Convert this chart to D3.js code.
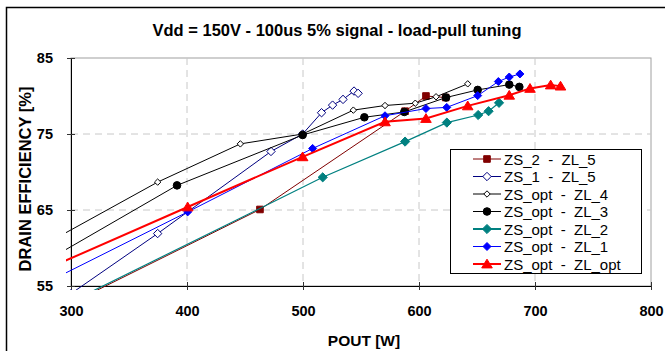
<!DOCTYPE html>
<html>
<head>
<meta charset="utf-8">
<script src="https://cdn.jsdelivr.net/npm/d3@7"></script>
<style>
  body { margin: 0; background: #fff; }
  text { font-family: "Liberation Sans", Arial, sans-serif; }
</style>
</head>
<body>
<svg width="665" height="351"></svg>
<script>
// ---- data (POUT in W, drain efficiency in %) ----
const zs2_zl5_pout = [310, 462.9, 588, 606, 623];
const zs2_zl5_eff  = [53.5, 65.07, 78.0, 80.0, 79.8];

const zs1_zl5_pout = [300, 374.7, 472.4, 499.7, 516, 525.5, 534.5, 544, 547.5];
const zs1_zl5_eff  = [54.0, 61.9, 72.7, 75.0, 77.8, 78.8, 79.55, 80.65, 80.35];

const zsopt_zl4_pout = [280, 374.7, 446, 499.7, 543.4, 570.7, 596.8, 614.7, 642];
const zsopt_zl4_eff  = [60.7, 68.67, 73.7, 75.0, 78.14, 78.75, 79.05, 79.9, 81.6];

const zsopt_zl3_pout = [290, 391.4, 499.7, 552.9, 587.3, 623.3, 650.6, 677.8, 686.5];
const zsopt_zl3_eff  = [59.3, 68.24, 74.87, 77.2, 77.9, 79.8, 80.8, 81.5, 81.2];

const zsopt_zl2_pout = [305, 517, 588, 624, 651, 660, 669];
const zsopt_zl2_eff  = [53.3, 69.3, 74.0, 76.5, 77.5, 78.0, 79.1];

const zsopt_zl1_pout = [290, 400.6, 508.3, 570.7, 606, 623.9, 650.6, 668.4, 677.8, 687];
const zsopt_zl1_eff  = [56.3, 64.75, 73.1, 77.4, 78.35, 78.5, 80.05, 81.9, 82.5, 82.9];

const zsopt_zlopt_pout = [290, 400.6, 499.7, 570.7, 606, 642, 677.8, 695.7, 713.5, 722];
const zsopt_zlopt_eff  = [57.98, 65.4, 72.0, 76.6, 77.04, 78.7, 80.1, 81.0, 81.45, 81.3];

const seriesNames = ['ZS_2  -  ZL_5', 'ZS_1  -  ZL_5', 'ZS_opt  -  ZL_4', 'ZS_opt  -  ZL_3',
                     'ZS_opt  -  ZL_2', 'ZS_opt  -  ZL_1', 'ZS_opt  -  ZL_opt'];
const xTicks = [300, 400, 500, 600, 700, 800];
const yTicks = [55, 65, 75, 85];

// ---- layout ----
const svg = d3.select('svg');
const plot = { l: 71, r: 651, t: 58, b: 286 };

const xScale = d3.scaleLinear().domain([300, 800]).range([plot.l, plot.r]);
const yScale = d3.scaleLinear().domain([55, 85]).range([plot.b, plot.t]);

// marker shapes
const diamond = h => `M0,${-h}L${h},0L0,${h}L${-h},0Z`;
const square = h => `M${-h},${-h}H${h}V${h}H${-h}Z`;
const triangle = h => `M0,${-h * 1.05}L${h * 1.15},${h * 0.85}L${-h * 1.15},${h * 0.85}Z`;
const circle = r => `M${r},0A${r},${r} 0 1,1 ${-r},0A${r},${r} 0 1,1 ${r},0Z`;

const styles = [
  { color: '#800000', width: 1,   shape: square(3.3),   fill: '#800000' },
  { color: '#000080', width: 1,   shape: diamond(4.2),  fill: '#fff' },
  { color: '#000000', width: 1,   shape: diamond(3.2),  fill: '#fff' },
  { color: '#000000', width: 1,   shape: circle(3.8),   fill: '#000' },
  { color: '#008080', width: 1.2, shape: diamond(4.6),  fill: '#008080' },
  { color: '#0000ff', width: 1,   shape: diamond(4),    fill: '#0000ff' },
  { color: '#ff0000', width: 2,   shape: triangle(4.6), fill: '#ff0000' }
];

const pouts = [zs2_zl5_pout, zs1_zl5_pout, zsopt_zl4_pout, zsopt_zl3_pout, zsopt_zl2_pout, zsopt_zl1_pout, zsopt_zlopt_pout];
const effs  = [zs2_zl5_eff, zs1_zl5_eff, zsopt_zl4_eff, zsopt_zl3_eff, zsopt_zl2_eff, zsopt_zl1_eff, zsopt_zlopt_eff];

const series = seriesNames.map((name, i) => ({
  name: name,
  style: styles[i],
  values: pouts[i].map((p, j) => ({ pout: p, eff: effs[i][j] }))
}));

// outer chart frame
svg.append('rect')
  .attr('x', 6.5).attr('y', 7.5)
  .attr('width', 720).attr('height', 400)
  .attr('fill', 'none').attr('stroke', '#000').attr('stroke-width', 1.5);

// title
svg.append('text')
  .attr('x', 337).attr('y', 36)
  .attr('text-anchor', 'middle')
  .attr('font-size', 16.5).attr('font-weight', 'bold')
  .text('Vdd = 150V - 100us 5% signal - load-pull tuning');

// plot border (light)
svg.append('rect')
  .attr('x', plot.l).attr('y', plot.t)
  .attr('width', plot.r - plot.l).attr('height', plot.b - plot.t)
  .attr('fill', 'none').attr('stroke', '#a0a0a0').attr('stroke-width', 1);

// grid lines
svg.append('g').selectAll('line')
  .data(xTicks.slice(1, -1))
  .enter().append('line')
  .attr('x1', d => xScale(d)).attr('x2', d => xScale(d))
  .attr('y1', plot.t).attr('y2', plot.b)
  .attr('stroke', '#c8c8c8').attr('stroke-dasharray', '7,5');

svg.append('g').selectAll('line')
  .data(yTicks.slice(1, -1))
  .enter().append('line')
  .attr('x1', plot.l).attr('x2', plot.r)
  .attr('y1', d => yScale(d)).attr('y2', d => yScale(d))
  .attr('stroke', '#c8c8c8').attr('stroke-dasharray', '7,5');

// axes
const xAxis = d3.axisBottom(xScale).tickValues(xTicks).tickSizeInner(4).tickSizeOuter(0).tickPadding(16);
const yAxis = d3.axisLeft(yScale).tickValues(yTicks).tickSizeInner(4).tickSizeOuter(0).tickPadding(14);

const gx = svg.append('g')
  .attr('transform', `translate(0, ${plot.b})`)
  .call(xAxis);
const gy = svg.append('g')
  .attr('transform', `translate(${plot.l}, 0)`)
  .call(yAxis);

[gx, gy].forEach(g => {
  g.select('.domain').attr('stroke', '#000');
  g.selectAll('.tick line').attr('stroke', '#333');
  g.selectAll('.tick text')
    .attr('font-family', '"Liberation Sans", Arial, sans-serif')
    .attr('font-size', 14.5).attr('font-weight', 'bold').attr('fill', '#000');
});
// ticks cross the axis
gx.selectAll('.tick line').attr('y1', -4);
gy.selectAll('.tick line').attr('x1', 4);

// axis titles
svg.append('text')
  .attr('x', 364).attr('y', 346)
  .attr('text-anchor', 'middle')
  .attr('font-size', 15.5).attr('font-weight', 'bold')
  .text('POUT [W]');

svg.append('text')
  .attr('transform', `translate(31, 179) rotate(-90)`)
  .attr('text-anchor', 'middle')
  .attr('font-size', 16.5).attr('font-weight', 'bold')
  .text('DRAIN EFFICIENCY [%]');

// clip region (Excel lets lines run a little past the axes)
svg.append('clipPath').attr('id', 'clip')
  .append('rect')
  .attr('x', plot.l - 5).attr('y', plot.t)
  .attr('width', plot.r - plot.l + 5).attr('height', plot.b - plot.t + 4);

const line = d3.line()
  .x(d => xScale(d.pout))
  .y(d => yScale(d.eff));

const seriesG = svg.append('g').attr('clip-path', 'url(#clip)')
  .selectAll('.series')
  .data(series)
  .enter().append('g')
  .attr('class', 'series');

seriesG.append('path')
  .attr('d', d => line(d.values))
  .attr('fill', 'none')
  .attr('stroke', d => d.style.color)
  .attr('stroke-width', d => d.style.width);

seriesG.selectAll('.marker')
  .data(d => d.values.map(v => ({ v: v, style: d.style })))
  .enter().append('path')
  .attr('class', 'marker')
  .attr('transform', d => `translate(${xScale(d.v.pout)}, ${yScale(d.v.eff)})`)
  .attr('d', d => d.style.shape)
  .attr('fill', d => d.style.fill)
  .attr('stroke', d => d.style.color)
  .attr('stroke-width', 1);

// legend
const legend = svg.append('g');
legend.append('rect')
  .attr('x', 450.5).attr('y', 149.5)
  .attr('width', 191).attr('height', 124)
  .attr('fill', '#fff').attr('stroke', '#000').attr('stroke-width', 1);

const legendItem = legend.selectAll('.item')
  .data(series)
  .enter().append('g')
  .attr('class', 'item')
  .attr('transform', (d, i) => `translate(0, ${159 + i * 17.5})`);

legendItem.append('line')
  .attr('x1', 473).attr('x2', 501)
  .attr('stroke', d => d.style.color)
  .attr('stroke-width', d => d.style.width === 1.2 ? 2 : d.style.width);

legendItem.append('path')
  .attr('transform', 'translate(487, 0)')
  .attr('d', d => d.style.shape)
  .attr('fill', d => d.style.fill)
  .attr('stroke', d => d.style.color);

legendItem.append('text')
  .attr('x', 504).attr('y', 5.5)
  .attr('font-size', 15)
  .style('white-space', 'pre')
  .text(d => d.name);
</script>
</body>
</html>
